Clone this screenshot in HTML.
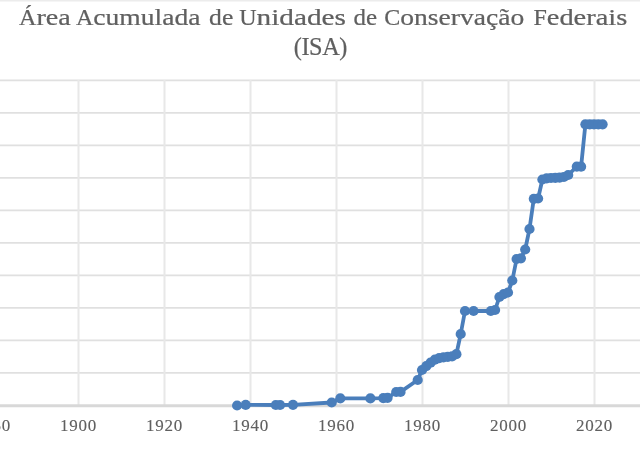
<!DOCTYPE html>
<html lang="pt"><head><meta charset="utf-8"><title>Área Acumulada de Unidades de Conservação Federais (ISA)</title>
<style>html,body{margin:0;padding:0;background:#fff;overflow:hidden}svg{display:block}text{font-family:"Liberation Serif",serif;fill:#606060}</style></head><body>
<svg width="640" height="459" viewBox="0 0 640 459">
<rect width="640" height="459" fill="#fff"/>
<rect width="640" height="1.5" fill="#ececec"/>
<line x1="0" x2="640" y1="80.40" y2="80.40" stroke="#e0e0e0" stroke-width="1.9"/>
<line x1="0" x2="640" y1="112.90" y2="112.90" stroke="#e0e0e0" stroke-width="1.9"/>
<line x1="0" x2="640" y1="145.40" y2="145.40" stroke="#e0e0e0" stroke-width="1.9"/>
<line x1="0" x2="640" y1="177.90" y2="177.90" stroke="#e0e0e0" stroke-width="1.9"/>
<line x1="0" x2="640" y1="210.40" y2="210.40" stroke="#e0e0e0" stroke-width="1.9"/>
<line x1="0" x2="640" y1="242.90" y2="242.90" stroke="#e0e0e0" stroke-width="1.9"/>
<line x1="0" x2="640" y1="275.40" y2="275.40" stroke="#e0e0e0" stroke-width="1.9"/>
<line x1="0" x2="640" y1="307.90" y2="307.90" stroke="#e0e0e0" stroke-width="1.9"/>
<line x1="0" x2="640" y1="340.40" y2="340.40" stroke="#e0e0e0" stroke-width="1.9"/>
<line x1="0" x2="640" y1="372.90" y2="372.90" stroke="#e0e0e0" stroke-width="1.9"/>
<line x1="78.50" x2="78.50" y1="80" y2="405" stroke="#e8e8e8" stroke-width="2"/>
<line x1="164.50" x2="164.50" y1="80" y2="405" stroke="#e8e8e8" stroke-width="2"/>
<line x1="250.50" x2="250.50" y1="80" y2="405" stroke="#e8e8e8" stroke-width="2"/>
<line x1="336.50" x2="336.50" y1="80" y2="405" stroke="#e8e8e8" stroke-width="2"/>
<line x1="422.50" x2="422.50" y1="80" y2="405" stroke="#e8e8e8" stroke-width="2"/>
<line x1="508.50" x2="508.50" y1="80" y2="405" stroke="#e8e8e8" stroke-width="2"/>
<line x1="594.50" x2="594.50" y1="80" y2="405" stroke="#e8e8e8" stroke-width="2"/>
<line x1="0" x2="640" y1="405.7" y2="405.7" stroke="#d8d8d8" stroke-width="3"/>
<text id="t1" y="24.5" font-size="24" stroke="#606060" stroke-width="0.22"><tspan x="19.1">Á</tspan><tspan x="36.4" textLength="34.3" lengthAdjust="spacingAndGlyphs">rea</tspan> <tspan x="76.0">A</tspan><tspan x="93.3" textLength="107.2" lengthAdjust="spacingAndGlyphs">cumulada</tspan> <tspan x="209.1" textLength="24.2" lengthAdjust="spacingAndGlyphs">de</tspan> <tspan x="239.2">U</tspan><tspan x="256.5" textLength="89.5" lengthAdjust="spacingAndGlyphs">nidades</tspan> <tspan x="353.5" textLength="23.6" lengthAdjust="spacingAndGlyphs">de</tspan> <tspan x="384.3">C</tspan><tspan x="400.3" textLength="123.9" lengthAdjust="spacingAndGlyphs">onservação</tspan> <tspan x="533.4">F</tspan><tspan x="546.8" textLength="80.5" lengthAdjust="spacingAndGlyphs">ederais</tspan></text>
<text id="t2" x="320.6" y="55.3" font-size="24.3" text-anchor="middle" textLength="53.5" lengthAdjust="spacing" stroke="#606060" stroke-width="0.22">(ISA)</text>
<text x="-7.9" y="430.9" font-size="17" text-anchor="middle" textLength="36.2" stroke="#606060" stroke-width="0.12" lengthAdjust="spacing">1880</text>
<text x="78.1" y="430.9" font-size="17" text-anchor="middle" textLength="36.2" stroke="#606060" stroke-width="0.12" lengthAdjust="spacing">1900</text>
<text x="164.1" y="430.9" font-size="17" text-anchor="middle" textLength="36.2" stroke="#606060" stroke-width="0.12" lengthAdjust="spacing">1920</text>
<text x="250.1" y="430.9" font-size="17" text-anchor="middle" textLength="36.2" stroke="#606060" stroke-width="0.12" lengthAdjust="spacing">1940</text>
<text x="336.1" y="430.9" font-size="17" text-anchor="middle" textLength="36.2" stroke="#606060" stroke-width="0.12" lengthAdjust="spacing">1960</text>
<text x="422.1" y="430.9" font-size="17" text-anchor="middle" textLength="36.2" stroke="#606060" stroke-width="0.12" lengthAdjust="spacing">1980</text>
<text x="508.1" y="430.9" font-size="17" text-anchor="middle" textLength="36.2" stroke="#606060" stroke-width="0.12" lengthAdjust="spacing">2000</text>
<text x="594.1" y="430.9" font-size="17" text-anchor="middle" textLength="36.2" stroke="#606060" stroke-width="0.12" lengthAdjust="spacing">2020</text>
<polyline points="237.1,405.5 245.7,404.9 275.8,405.0 280.1,405.0 293.0,404.8 331.7,402.5 340.3,398.4 370.4,398.4 383.3,398.1 387.6,397.8 396.2,392.0 400.5,391.9 417.7,380.0 422.0,370.0 426.3,366.2 430.6,362.7 434.9,359.7 439.2,358.2 443.5,357.3 447.8,356.8 452.1,356.4 456.4,354.2 460.7,334.0 465.0,311.0 473.6,311.0 490.8,311.0 495.1,310.0 499.4,297.0 503.7,294.2 508.0,292.5 512.3,280.5 516.6,259.0 520.9,258.3 525.2,249.5 529.5,229.0 533.8,198.8 538.1,198.5 542.4,179.5 546.7,178.3 551.0,178.0 555.3,177.8 559.6,177.6 563.9,177.0 568.2,175.0 576.8,166.7 581.1,166.7 585.4,124.3 589.7,124.3 594.0,124.3 598.3,124.3 602.6,124.3" fill="none" stroke="#4a7ebb" stroke-width="3.8" stroke-linejoin="round" stroke-linecap="round"/>
<circle cx="237.1" cy="405.5" r="5.1" fill="#4a7ebb"/>
<circle cx="245.7" cy="404.9" r="5.1" fill="#4a7ebb"/>
<circle cx="275.8" cy="405.0" r="5.1" fill="#4a7ebb"/>
<circle cx="280.1" cy="405.0" r="5.1" fill="#4a7ebb"/>
<circle cx="293.0" cy="404.8" r="5.1" fill="#4a7ebb"/>
<circle cx="331.7" cy="402.5" r="5.1" fill="#4a7ebb"/>
<circle cx="340.3" cy="398.4" r="5.1" fill="#4a7ebb"/>
<circle cx="370.4" cy="398.4" r="5.1" fill="#4a7ebb"/>
<circle cx="383.3" cy="398.1" r="5.1" fill="#4a7ebb"/>
<circle cx="387.6" cy="397.8" r="5.1" fill="#4a7ebb"/>
<circle cx="396.2" cy="392.0" r="5.1" fill="#4a7ebb"/>
<circle cx="400.5" cy="391.9" r="5.1" fill="#4a7ebb"/>
<circle cx="417.7" cy="380.0" r="5.1" fill="#4a7ebb"/>
<circle cx="422.0" cy="370.0" r="5.1" fill="#4a7ebb"/>
<circle cx="426.3" cy="366.2" r="5.1" fill="#4a7ebb"/>
<circle cx="430.6" cy="362.7" r="5.1" fill="#4a7ebb"/>
<circle cx="434.9" cy="359.7" r="5.1" fill="#4a7ebb"/>
<circle cx="439.2" cy="358.2" r="5.1" fill="#4a7ebb"/>
<circle cx="443.5" cy="357.3" r="5.1" fill="#4a7ebb"/>
<circle cx="447.8" cy="356.8" r="5.1" fill="#4a7ebb"/>
<circle cx="452.1" cy="356.4" r="5.1" fill="#4a7ebb"/>
<circle cx="456.4" cy="354.2" r="5.1" fill="#4a7ebb"/>
<circle cx="460.7" cy="334.0" r="5.1" fill="#4a7ebb"/>
<circle cx="465.0" cy="311.0" r="5.1" fill="#4a7ebb"/>
<circle cx="473.6" cy="311.0" r="5.1" fill="#4a7ebb"/>
<circle cx="490.8" cy="311.0" r="5.1" fill="#4a7ebb"/>
<circle cx="495.1" cy="310.0" r="5.1" fill="#4a7ebb"/>
<circle cx="499.4" cy="297.0" r="5.1" fill="#4a7ebb"/>
<circle cx="503.7" cy="294.2" r="5.1" fill="#4a7ebb"/>
<circle cx="508.0" cy="292.5" r="5.1" fill="#4a7ebb"/>
<circle cx="512.3" cy="280.5" r="5.1" fill="#4a7ebb"/>
<circle cx="516.6" cy="259.0" r="5.1" fill="#4a7ebb"/>
<circle cx="520.9" cy="258.3" r="5.1" fill="#4a7ebb"/>
<circle cx="525.2" cy="249.5" r="5.1" fill="#4a7ebb"/>
<circle cx="529.5" cy="229.0" r="5.1" fill="#4a7ebb"/>
<circle cx="533.8" cy="198.8" r="5.1" fill="#4a7ebb"/>
<circle cx="538.1" cy="198.5" r="5.1" fill="#4a7ebb"/>
<circle cx="542.4" cy="179.5" r="5.1" fill="#4a7ebb"/>
<circle cx="546.7" cy="178.3" r="5.1" fill="#4a7ebb"/>
<circle cx="551.0" cy="178.0" r="5.1" fill="#4a7ebb"/>
<circle cx="555.3" cy="177.8" r="5.1" fill="#4a7ebb"/>
<circle cx="559.6" cy="177.6" r="5.1" fill="#4a7ebb"/>
<circle cx="563.9" cy="177.0" r="5.1" fill="#4a7ebb"/>
<circle cx="568.2" cy="175.0" r="5.1" fill="#4a7ebb"/>
<circle cx="576.8" cy="166.7" r="5.1" fill="#4a7ebb"/>
<circle cx="581.1" cy="166.7" r="5.1" fill="#4a7ebb"/>
<circle cx="585.4" cy="124.3" r="5.1" fill="#4a7ebb"/>
<circle cx="589.7" cy="124.3" r="5.1" fill="#4a7ebb"/>
<circle cx="594.0" cy="124.3" r="5.1" fill="#4a7ebb"/>
<circle cx="598.3" cy="124.3" r="5.1" fill="#4a7ebb"/>
<circle cx="602.6" cy="124.3" r="5.1" fill="#4a7ebb"/>
</svg></body></html>
